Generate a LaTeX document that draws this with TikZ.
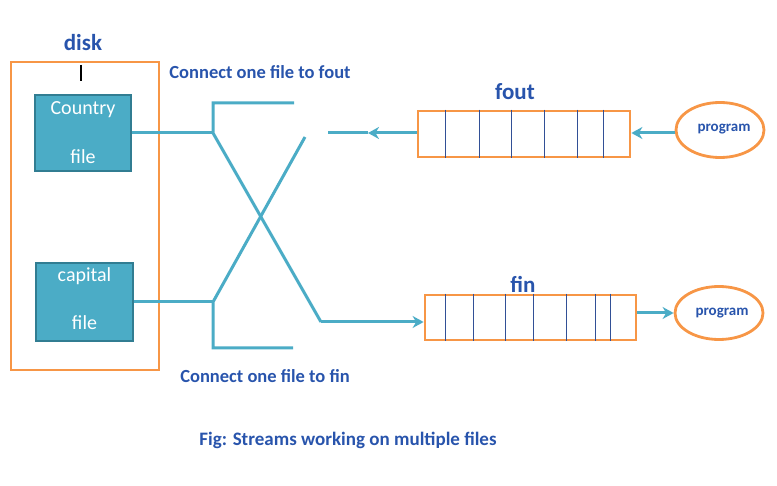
\documentclass[tikz,border=0pt]{standalone}
\usepackage{fontspec}
\setmainfont{Carlito}
\usetikzlibrary{arrows.meta,calc,shapes.geometric}
\definecolor{teal}{RGB}{75,172,198}
\definecolor{tealdark}{RGB}{49,125,146}
\definecolor{orng}{RGB}{247,150,70}
\definecolor{txtblue}{RGB}{40,84,172}
\definecolor{divblue}{RGB}{50,80,150}
\tikzset{
  conn/.style={draw=teal,line width=3pt},
  arr/.style={conn,-{Stealth[length=11pt,width=12pt,inset=3.5pt]}},
  filebox/.style={draw=tealdark,fill=teal,line width=2.4pt,inner sep=0pt},
  filetxt/.style={text=white,font=\fontsize{20}{24}\selectfont,inner sep=0pt},
  obox/.style={draw=orng,line width=2.8pt,inner sep=0pt},
  lbl/.style={text=txtblue,font=\bfseries\fontsize{18.5}{22}\selectfont,inner sep=0pt},
  biglbl/.style={text=txtblue,font=\bfseries\fontsize{23}{26}\selectfont,inner sep=0pt},
  prog/.style={ellipse,draw=orng,line width=2.8pt,inner sep=0pt},
  progtxt/.style={text=txtblue,font=\bfseries\fontsize{15}{18}\selectfont,inner sep=0pt},
  divider/.style={draw=divblue,line width=0.9pt}
}
\begin{document}
\begin{tikzpicture}[x=1pt,y=-1pt]
\useasboundingbox (0,0) rectangle (777,486);
% disk
\node[obox,minimum width=148pt,minimum height=308pt] (disk) at (85,216) {};
\node[biglbl] (disklbl) at (83,43) {disk};
\coordinate (tickA) at (81,65);
\coordinate (tickB) at (81,81);
\draw[line width=1.8pt,black] (tickA) -- (tickB);
% files
\node[filebox,minimum width=96pt,minimum height=76pt] (country) at (83,133) {};
\node[filetxt] (countryA) at (83,110) {Country};
\node[filetxt] (countryB) at (83,157) {file};
\node[filebox,minimum width=97pt,minimum height=78pt] (capital) at (84.5,302) {};
\node[filetxt] (capitalA) at (84.5,276) {capital};
\node[filetxt] (capitalB) at (84.5,323) {file};
% labels
\node[lbl] (c1) at (260,72) {Connect one file to fout};
\node[lbl] (c2) at (265,376) {Connect one file to fin};
\node[lbl,font=\bfseries\fontsize{19}{22}\selectfont] (fig) at (348,440) {Fig: Streams working on multiple files};
% junction coordinates
\coordinate (j1) at (213,133);
\coordinate (j1up) at (213,103);
\coordinate (j1end) at (294,103);
\coordinate (j2) at (213,302);
\coordinate (j2dn) at (213,348);
\coordinate (j2end) at (293,348);
\coordinate (d1end) at (321,322);
\coordinate (d2end) at (305,137);
\coordinate (midtip) at (368,133);
\coordinate (leftend) at (328,133);
% fout / fin boxes
\node[obox,minimum width=212pt,minimum height=46pt] (fout) at (524,134) {};
\node[biglbl] (foutlbl) at (515,92) {fout};
\foreach \d in {29,63,95,128,161,187}
  \draw[divider] ($(fout.north west)+(\d,0)$) -- ($(fout.south west)+(\d,0)$);
\node[obox,minimum width=211pt,minimum height=45pt] (fin) at (530.5,317.5) {};
\node[biglbl] (finlbl) at (523,284) {fin};
\foreach \d in {22,50,82,110,143,172,187}
  \draw[divider] ($(fin.north west)+(\d,0)$) -- ($(fin.south west)+(\d,0)$);
% programs
\node[prog,minimum width=88pt,minimum height=55pt] (p1) at (720,130) {};
\node[progtxt] (p1t) at (724,129) {program};
\node[prog,minimum width=88pt,minimum height=53pt] (p2) at (719,313) {};
\node[progtxt] (p2t) at (722,313) {program};
% connectors
\draw[conn] (country.east |- j1) -- (j1);
\draw[conn] (j1end) -- (j1up) -- (j1) -- (d1end);
\draw[arr] (d1end) -- (fin.west |- d1end);
\draw[conn] (capital.east |- j2) -- (j2);
\draw[conn] (j2end) -- (j2dn) -- (j2) -- (d2end);
\draw[arr] (fout.west |- midtip) -- (midtip);
\draw[conn] (midtip) -- (leftend);
\draw[arr] (p1.west |- j1) -- (fout.east |- j1);
\coordinate (pout) at (636,313);
\draw[arr] (fin.east |- pout) -- (p2.west |- pout);
\end{tikzpicture}
\end{document}
